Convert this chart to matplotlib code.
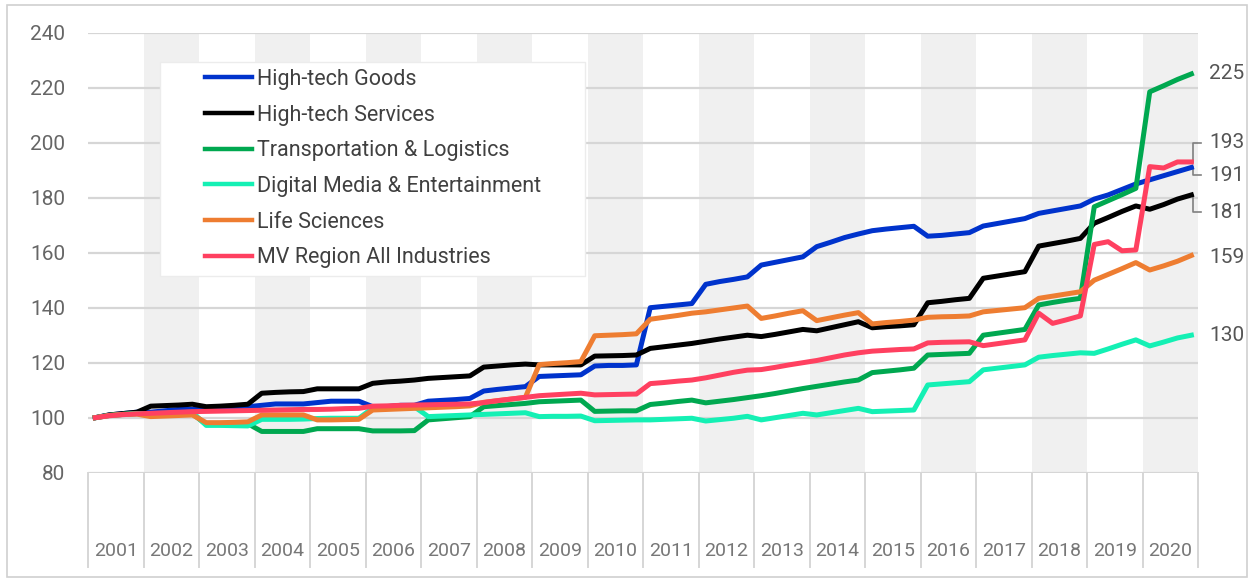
import numpy as np
import matplotlib.pyplot as plt
from matplotlib.patches import Rectangle
from matplotlib.transforms import blended_transform_factory

plt.rcParams['font.family'] = ['Roboto', 'DejaVu Sans']

# Индекс занятости по кварталам, 2001 Q1 = 100
years = list(range(2001, 2021))

high_tech_goods = [
    100, 101, 101.5, 102, 102, 102.5, 103, 103, 103, 103.5, 103.5, 104,
    104.5, 105, 105, 105, 105.5, 106, 106, 106, 104, 104, 104.5, 104.5,
    106, 106.3, 106.6, 107, 109.7, 110.3, 110.8, 111.3, 115, 115.2, 115.4, 115.6,
    118.8, 119, 119, 119.2, 140, 140.5, 141, 141.5, 148.5, 149.5, 150.3, 151.2,
    155.5, 156.5, 157.5, 158.5, 162.2, 163.8, 165.5, 166.8, 168, 168.6, 169.1, 169.6,
    166, 166.3, 166.8, 167.3, 169.7, 170.6, 171.5, 172.4, 174.3, 175.2, 176.1, 177,
    179.5, 181, 183, 185, 186.5, 188, 189.5, 191,
]
high_tech_services = [
    100, 101, 101.5, 102, 104.2, 104.4, 104.6, 104.9, 104, 104.2, 104.5, 104.9,
    108.9, 109.2, 109.4, 109.5, 110.5, 110.5, 110.5, 110.5, 112.5, 113, 113.3, 113.7,
    114.3, 114.6, 114.9, 115.2, 118.4, 118.8, 119.2, 119.5, 119.2, 119.2, 119.2, 119.2,
    122.4, 122.5, 122.6, 122.8, 125.2, 125.8, 126.4, 127, 127.8, 128.6, 129.3, 130,
    129.5, 130.3, 131.2, 132.1, 131.6, 132.7, 133.8, 134.9, 132.7, 133.1, 133.4, 133.8,
    141.8, 142.3, 142.9, 143.4, 150.7, 151.5, 152.3, 153.1, 162.4, 163.3, 164.2, 165.2,
    170.7, 172.8, 175, 177, 175.8, 177.5, 179.5, 181,
]
transportation = [
    100, 100.8, 101.2, 101.5, 101.5, 101.5, 101.5, 101.5, 97.5, 97.5, 97.5, 97.8,
    95, 95, 95, 95, 96, 96, 96, 96, 95.2, 95.2, 95.2, 95.3,
    99.2, 99.6, 100, 100.4, 104, 104.4, 104.8, 105.2, 105.8, 106, 106.2, 106.4,
    102.3, 102.4, 102.5, 102.5, 104.8, 105.3, 105.9, 106.4, 105.4, 106, 106.6, 107.3,
    108, 108.8, 109.7, 110.6, 111.4, 112.2, 113, 113.7, 116.4, 116.9, 117.4, 118,
    122.8, 123, 123.2, 123.4, 130, 130.7, 131.4, 132.1, 141, 141.9, 142.7, 143.4,
    176.7, 178.9, 181.1, 183.4, 218.5, 220.7, 223, 225,
]
digital_media = [
    100, 100.8, 101.2, 101.5, 101.5, 101.6, 101.8, 102, 97.2, 97.2, 97.1, 97,
    99.4, 99.4, 99.4, 99.5, 99.7, 99.8, 99.8, 99.8, 103.5, 103.7, 103.8, 104,
    100.4, 100.6, 100.8, 101, 101.2, 101.4, 101.6, 101.8, 100.4, 100.5, 100.5, 100.6,
    98.9, 99, 99.1, 99.2, 99.2, 99.4, 99.6, 99.8, 98.8, 99.3, 99.8, 100.5,
    99.2, 100, 100.8, 101.6, 101, 101.8, 102.6, 103.4, 102.2, 102.4, 102.6, 102.8,
    111.9, 112.3, 112.7, 113.1, 117.4, 118, 118.6, 119.2, 122, 122.6, 123.1, 123.6,
    123.4, 125, 126.7, 128.3, 126.1, 127.5, 129, 130,
]
life_sciences = [
    100, 100.8, 101.2, 101.3, 100.4, 100.6, 100.8, 101, 98.2, 98.2, 98.3, 98.5,
    101, 101, 101, 101, 99.2, 99.2, 99.3, 99.4, 102.8, 103, 103.2, 103.4,
    103.6, 103.8, 104, 104.3, 105.6, 106.2, 106.8, 107.4, 119.3, 119.7, 120, 120.4,
    129.8, 130, 130.2, 130.5, 135.8, 136.5, 137.2, 138, 138.5, 139.2, 139.9, 140.6,
    136.1, 137, 138, 138.9, 135.3, 136.3, 137.3, 138.2, 134.1, 134.6, 135, 135.5,
    136.5, 136.7, 136.8, 137, 138.5, 139, 139.5, 140, 143.4, 144.2, 145, 145.8,
    150, 152.1, 154.2, 156.4, 153.7, 155.2, 156.9, 159,
]
all_industries = [
    100, 100.7, 101.1, 101.4, 101.6, 101.8, 102, 102.2, 102.3, 102.4, 102.5, 102.6,
    102.7, 102.8, 102.9, 103, 103, 103.1, 103.3, 103.4, 104.2, 104.3, 104.5, 104.6,
    104.7, 104.8, 104.9, 105, 105.5, 106.2, 106.8, 107.4, 108, 108.3, 108.6, 108.9,
    108.3, 108.4, 108.5, 108.6, 112.4, 112.8, 113.3, 113.7, 114.5, 115.5, 116.5, 117.3,
    117.5, 118.3, 119.2, 120, 120.8, 121.8, 122.8, 123.6, 124.2, 124.5, 124.8, 125,
    127.2, 127.4, 127.5, 127.6, 126.2, 126.9, 127.6, 128.3, 138, 134.3, 135.6, 137,
    163, 164, 160.7, 161, 191.3, 190.8, 193, 193,
]

series_names = [
    'High-tech Goods', 'High-tech Services', 'Transportation & Logistics',
    'Digital Media & Entertainment', 'Life Sciences', 'MV Region All Industries',
]
series_values = [
    high_tech_goods, high_tech_services, transportation,
    digital_media, life_sciences, all_industries,
]
series_colors = ['#0033cc', '#000000', '#00a850', '#14f0b4', '#ee7d31', '#ff4060']

# Сдвиг подписей справа, чтобы они не налезали друг на друга
label_shift = [-2.8, -6.3, 0, 0, -0.8, 7]

y_ticks = list(range(80, 241, 20))

W, H = 1250, 580
fig = plt.figure(figsize=(W / 100, H / 100), dpi=100)
ax = fig.add_axes([88.3 / W, 1 - 472.7 / H, 1110 / W, 440 / H])

x = np.array([y + (q + 0.5) / 4 for y in years for q in range(4)])

# Серые полосы по чётным годам
for yr in years:
    if yr % 2 == 0:
        ax.axvspan(yr, yr + 1, color='#f0f0f0', lw=0, zorder=0)

for v in y_ticks:
    ax.axhline(v, color='#d6d6d6', lw=1.6, zorder=1)

for name, vals, col in zip(series_names, series_values, series_colors):
    ax.plot(x, vals, color=col, lw=3.6, label=name, zorder=4)

ax.set_xlim(years[0], years[-1] + 1)
ax.set_ylim(80, 240)
ax.set_xticks([])
ax.set_yticks(y_ticks)
ax.tick_params(axis='y', length=0, pad=16.5, labelsize=15, labelcolor='#666666')
for s in ax.spines.values():
    s.set_visible(False)

# Подписи годов под графиком и разделители
tr = blended_transform_factory(ax.transData, fig.transFigure)
for yr in years + [years[-1] + 1]:
    ax.plot([yr, yr], [1 - 472.7 / H, 1 - 567 / H], color='#d6d6d6', lw=1.4,
            transform=tr, clip_on=False)
for yr in years:
    ax.text(yr + 0.5, 1 - 551 / H, str(yr), transform=tr, ha='center',
            va='center', fontsize=14, color='#777777')

# Последние значения справа
for vals, shift in zip(series_values, label_shift):
    last = vals[-1]
    ly = last + shift
    if abs(shift) > 1:
        ax.plot([2020.9, 2020.9, 2021.04], [last, ly, ly], color='#808080',
                lw=1.2, clip_on=False)
    ax.text(2021.19, ly, f'{round(last)}', ha='left', va='center',
            fontsize=15, color='#555555')

# Белая подложка легенды
ax.add_patch(Rectangle((160 / W, 1 - 276 / H), 425 / W, 214 / H,
                       transform=fig.transFigure, facecolor='white',
                       edgecolor='#ececec', lw=1, zorder=3))
leg = ax.legend(loc='upper left', bbox_to_anchor=(205 / W, 1 - 69 / H),
                bbox_transform=fig.transFigure, frameon=False, fontsize=15.5,
                handlelength=2.2, handletextpad=0.2, labelspacing=0.68,
                borderpad=0, borderaxespad=0)
leg.set_zorder(5)
for line in leg.get_lines():
    line.set_linewidth(3.2)
for t in leg.get_texts():
    t.set_color('#404040')

# Рамка вокруг рисунка
fig.add_artist(Rectangle((7 / W, 1 - 577 / H), 1240 / W, 572 / H,
                         transform=fig.transFigure, facecolor='none',
                         edgecolor='#d0d0d0', lw=1.2))

fig.savefig('out.png', dpi=100)
